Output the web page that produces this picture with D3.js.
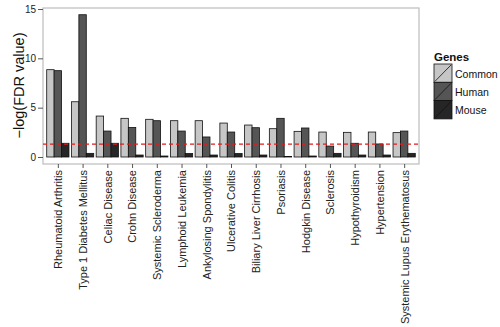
<!DOCTYPE html>
<html>
<head>
<meta charset="utf-8">
<script src="https://cdn.jsdelivr.net/npm/d3@7"></script>
<style>
  body { margin: 0; background: #fff; }
  text { font-family: "Liberation Sans", Arial, sans-serif; }
</style>
</head>
<body>
<svg id="chart" width="500" height="327"></svg>
<script>
// diseases on the x axis
var diseases = ["Rheumatoid Arthritis", "Type 1 Diabetes Mellitus", "Celiac Disease", "Crohn Disease",
  "Systemic Scleroderma", "Lymphoid Leukemia", "Ankylosing Spondylitis", "Ulcerative Colitis",
  "Biliary Liver Cirrhosis", "Psoriasis", "Hodgkin Disease", "Sclerosis", "Hypothyroidism",
  "Hypertension", "Systemic Lupus Erythematosus"];
var genes = ["Common", "Human", "Mouse"];
var common = [8.85, 5.6, 4.15, 3.92, 3.82, 3.68, 3.68, 3.44, 3.24, 2.87, 2.6, 2.53, 2.5, 2.53, 2.47];
var human  = [8.75, 14.42, 2.63, 3.0, 3.68, 2.63, 2.03, 2.53, 2.97, 3.92, 2.94, 1.11, 1.39, 1.32, 2.63];
var mouse  = [1.39, 0.37, 1.39, 0.2, 0.1, 0.35, 0.2, 0.35, 0.2, 0.05, 0.1, 0.37, 0.2, 0.2, 0.37];
var yTicks = [0, 5, 10, 15];
var cutoff = 1.3; // -log10(0.05)

var colors = { Common: "#c6c6c6", Human: "#555555", Mouse: "#262626" };

var rows = diseases.map(function (d, i) {
  return { name: d, Common: common[i], Human: human[i], Mouse: mouse[i] };
});

var margin = { top: 8, right: 81, bottom: 163, left: 43 },
    width = 500 - margin.left - margin.right,
    height = 327 - margin.top - margin.bottom;

var svg = d3.select("#chart")
  .append("g")
  .attr("transform", "translate(" + margin.left + "," + margin.top + ")");

// point scale gives category centres, with ggplot-like 0.6 expansion
var x = d3.scalePoint().domain(diseases).range([0, width]).padding(0.6);
var step = x.step();
var xSub = d3.scaleBand().domain(genes).range([-step * 0.45, step * 0.45]);

var y = d3.scaleLinear().domain([0, 15]).range([149, 1]);

// panel border
svg.append("rect")
  .attr("width", width)
  .attr("height", height)
  .attr("fill", "none")
  .attr("stroke", "#bdbdbd")
  .attr("stroke-width", 1.2);

// bars
var groups = svg.selectAll(".grp")
  .data(rows)
  .enter()
  .append("g")
  .attr("class", "grp")
  .attr("transform", function (d) { return "translate(" + x(d.name) + ",0)"; });

groups.selectAll("rect")
  .data(function (d) { return genes.map(function (g) { return { g: g, v: d[g] }; }); })
  .enter()
  .append("rect")
  .attr("x", function (d) { return xSub(d.g); })
  .attr("width", xSub.bandwidth())
  .attr("y", function (d) { return y(d.v); })
  .attr("height", function (d) { return y(0) - y(d.v); })
  .attr("fill", function (d) { return colors[d.g]; })
  .attr("stroke", "#111")
  .attr("stroke-width", 0.8);

// significance line
svg.append("line")
  .attr("x1", 0)
  .attr("x2", width)
  .attr("y1", y(cutoff))
  .attr("y2", y(cutoff))
  .attr("stroke", "#e41a1c")
  .attr("stroke-width", 1.2)
  .attr("stroke-dasharray", "4,3");

// y axis
var yAxis = svg.append("g")
  .call(d3.axisLeft(y).tickValues(yTicks).tickSize(5).tickPadding(2));
yAxis.select(".domain").remove();
yAxis.selectAll("line").attr("stroke", "#555");
yAxis.selectAll("text").attr("font-size", 10).attr("fill", "#222");

// x axis
var xAxis = svg.append("g")
  .attr("transform", "translate(0," + height + ")")
  .call(d3.axisBottom(x).tickSize(4).tickPadding(4));
xAxis.select(".domain").remove();
xAxis.selectAll("line").attr("stroke", "#555");
xAxis.selectAll("text")
  .attr("font-size", 11)
  .attr("fill", "#222")
  .attr("text-anchor", "end")
  .attr("dy", "0.35em")
  .attr("transform", "translate(0,6) rotate(-90)")
  .attr("x", 0)
  .attr("y", 0);

// y axis title
svg.append("text")
  .attr("transform", "rotate(-90)")
  .attr("x", -77.5)
  .attr("y", -19)
  .attr("text-anchor", "middle")
  .attr("font-size", 14.5)
  .attr("fill", "#111")
  .text("\u2212log(FDR value)");

// legend
var legend = d3.select("#chart").append("g")
  .attr("transform", "translate(434,52)");
legend.append("text")
  .attr("x", 0)
  .attr("y", 9)
  .attr("font-size", 11.5)
  .attr("font-weight", "bold")
  .attr("fill", "#111")
  .text("Genes");
var key = legend.selectAll(".key")
  .data(genes)
  .enter()
  .append("g")
  .attr("class", "key")
  .attr("transform", function (d, i) { return "translate(0," + (12 + i * 18.3) + ")"; });
key.append("rect")
  .attr("width", 18)
  .attr("height", 18.3)
  .attr("fill", function (d) { return colors[d]; })
  .attr("stroke", "#111")
  .attr("stroke-width", 0.8);
key.append("line")
  .attr("x1", 1).attr("y1", 17.3)
  .attr("x2", 17).attr("y2", 1)
  .attr("stroke", "#111")
  .attr("stroke-width", 0.8);
key.append("text")
  .attr("x", 21)
  .attr("y", 13.5)
  .attr("font-size", 10.5)
  .attr("fill", "#111")
  .text(function (d) { return d; });
</script>
</body>
</html>
